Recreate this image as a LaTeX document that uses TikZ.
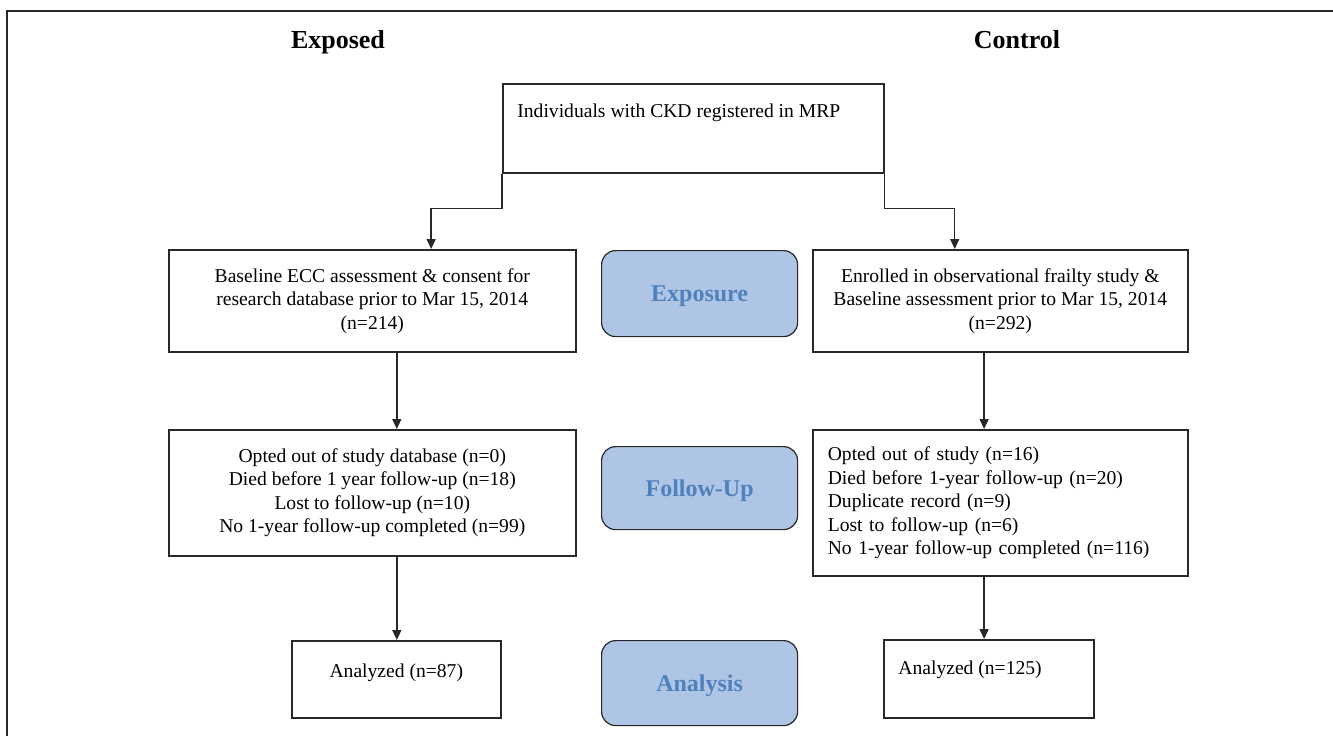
\documentclass[tikz,border=0pt]{standalone}
\usepackage{fontspec}
\setmainfont{Liberation Serif}
\usetikzlibrary{arrows.meta,calc}
\definecolor{phasefill}{RGB}{175,197,229}
\definecolor{phasetext}{RGB}{79,129,189}
\definecolor{linegray}{RGB}{40,40,40}
\newcommand{\px}{0.5pt}

\begin{document}
\begin{tikzpicture}[x=\px, y=-\px,
    box/.style={draw=linegray, line width=0.8pt, rectangle, anchor=north west, align=center, inner sep=0pt, font=\fontsize{9.8pt}{11.7pt}\selectfont},
    lbl/.style={inner sep=0pt, font=\fontsize{9.8pt}{11.7pt}\selectfont},
    phase/.style={draw=linegray, line width=0.6pt, fill=phasefill, rounded corners=7pt, anchor=north west, minimum width=98pt, text depth=0pt, text=phasetext, font=\fontsize{12pt}{14pt}\selectfont\bfseries},
    head/.style={anchor=base, font=\fontsize{13pt}{15pt}\selectfont\bfseries},
    arr/.style={draw=linegray, line width=0.7pt, -{Triangle[length=5pt,width=4.5pt]}}]
    \useasboundingbox (0,0) rectangle (1333,736);
    \draw[linegray, line width=0.8pt] (7,736) -- (7,11) -- (1333,11);

    % Headings
    \node[head] (exposed) at (338,48) {Exposed};
    \node[head] (control) at (1017,48) {Control};

    % Top
    \node[box, minimum width=190.5pt, minimum height=44.5pt,
          label={[lbl, anchor=north west, xshift=7.5pt, yshift=-10pt]north west:Individuals with CKD registered in MRP}] (top) at (502,83) {};

    % First row
    \node[box, minimum width=203.5pt, minimum height=51pt] (left1) at (168,249) {Baseline ECC assessment \& consent for\\research database prior to Mar 15, 2014\\(n=214)};
    \node[phase, minimum height=43pt] (exposure) at (601,250) {Exposure};
    \node[box, minimum width=187.5pt, minimum height=51pt] (right1) at (812,249) {Enrolled in observational frailty study \&\\Baseline assessment prior to Mar 15, 2014\\(n=292)};

    % Second row
    \node[box, minimum width=203.5pt, minimum height=63pt] (left2) at (168,429) {Opted out of study database (n=0)\\Died before 1 year follow-up (n=18)\\Lost to follow-up (n=10)\\No 1-year follow-up completed (n=99)};
    \node[phase, minimum height=41.5pt] (followup) at (601,446) {Follow-Up};
    \node[box, minimum height=73pt, align=left, inner xsep=7.5pt, text width=172.5pt] (right2) at (812,429) {Opted out of study (n=16)\\Died before 1-year follow-up (n=20)\\Duplicate record (n=9)\\Lost to follow-up (n=6)\\No 1-year follow-up completed (n=116)};

    % Third row
    \node[box, minimum width=104.5pt, minimum height=38.5pt,
          label={[lbl, anchor=north, yshift=-11.5pt]north:Analyzed (n=87)}] (left3) at (291,640) {};
    \node[phase, minimum height=42.5pt] (analysis) at (601,640) {Analysis};
    \node[box, minimum width=105pt, minimum height=39pt,
          label={[lbl, anchor=north west, xshift=7.5pt, yshift=-10.5pt]north west:Analyzed (n=125)}] (right3) at (883,639) {};

    % Arrows
    \draw[arr] (top.south west) -- ++(0,35) -| ($(left1.north west)!0.644!(left1.north east)$);
    \draw[arr] (top.south east) -- ++(0,35) -| ($(right1.north west)!0.379!(right1.north east)$);
    \coordinate (lx) at ($(left1.south west)!0.56!(left1.south east)$);
    \coordinate (rx) at ($(right1.south west)!0.457!(right1.south east)$);
    \draw[arr] (lx) -- (lx |- left2.north);
    \draw[arr] (lx |- left2.south) -- (lx |- left3.north);
    \draw[arr] (rx) -- (rx |- right2.north);
    \draw[arr] (rx |- right2.south) -- (rx |- right3.north);

\end{tikzpicture}
\end{document}
